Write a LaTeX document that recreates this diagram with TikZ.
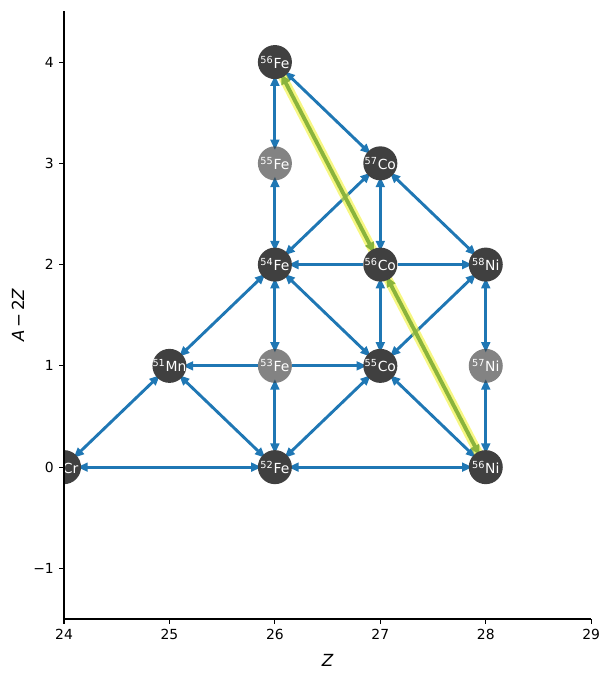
\documentclass[tikz,border=0pt]{standalone}
\usepackage{fontspec}
\setmainfont{DejaVu Sans}
\usetikzlibrary{arrows.meta}
\pgfdeclarelayer{background}
\pgfdeclarelayer{highlight}
\pgfsetlayers{background,highlight,main}
\definecolor{mplblue}{HTML}{1F77B4}
\definecolor{ndark}{HTML}{404040}
\definecolor{hlgreen}{HTML}{8AB43C}
\definecolor{hlyellow}{HTML}{F2F230}
\newcommand{\nucname}[2]{\makebox[0pt]{\textsuperscript{#1}#2}}
\begin{document}
\begin{tikzpicture}[x=75.9pt,y=72.9pt,
  nuc/.style={circle,fill=ndark,text=white,minimum size=24.5pt,inner sep=0pt,font=\fontsize{10}{12}\selectfont},
  nucl/.style={nuc,fill opacity=0.65,text opacity=1},
  tip/.tip={Triangle[length=7.5pt,width=6.2pt]},
  edge/.style={draw=mplblue,line width=2.1pt},
  both/.style={edge,tip-tip,shorten >=-2.9pt,shorten <=-2.9pt},
  fwd/.style={edge,-tip,shorten >=-2.9pt},
  hlglow/.style={draw=hlyellow,opacity=0.6,line width=6.5pt,line cap=round,shorten >=-1pt,shorten <=-1pt},
  hlline/.style={draw=hlgreen,line width=2.8pt,{Triangle[length=7.5pt,width=6.5pt]}-{Triangle[length=7.5pt,width=6.5pt]},shorten >=-2.9pt,shorten <=-2.9pt},
  axisline/.style={line width=0.8pt,black},
  ticklab/.style={inner sep=0pt,font=\fontsize{10}{12}\selectfont},
  axlab/.style={inner sep=0pt,font=\fontsize{12}{14}\selectfont}]
\useasboundingbox (23.393,-2.102) rectangle (29.185,4.613);

% nuclei
\node[nuc]  (Fe56) at (26,4) {\nucname{56}{Fe}};
\node[nucl] (Fe55) at (26,3) {\nucname{55}{Fe}};
\node[nuc]  (Co57) at (27,3) {\nucname{57}{Co}};
\node[nuc]  (Fe54) at (26,2) {\nucname{54}{Fe}};
\node[nuc]  (Co56) at (27,2) {\nucname{56}{Co}};
\node[nuc]  (Ni58) at (28,2) {\nucname{58}{Ni}};
\node[nuc]  (Mn51) at (25,1) {\nucname{51}{Mn}};
\node[nucl] (Fe53) at (26,1) {\nucname{53}{Fe}};
\node[nuc]  (Co55) at (27,1) {\nucname{55}{Co}};
\node[nucl] (Ni57) at (28,1) {\nucname{57}{Ni}};
\node[nuc]  (Fe52) at (26,0) {\nucname{52}{Fe}};
\node[nuc]  (Ni56) at (28,0) {\nucname{56}{Ni}};
\begin{scope}
  \clip (24,-1.5) rectangle (29,4.5);
  \node[nuc] (Cr48) at (24,0) {\nucname{48}{Cr}};
\end{scope}

% connectors
\begin{pgfonlayer}{background}
\draw[both] (Fe56) -- (Fe55);
\draw[both] (Fe56) -- (Co57);
\draw[both] (Fe55) -- (Fe54);
\draw[both] (Co57) -- (Fe54);
\draw[both] (Co57) -- (Co56);
\draw[both] (Co57) -- (Ni58);
\draw[both] (Fe54) -- (Mn51);
\draw[both] (Fe54) -- (Fe53);
\draw[both] (Fe54) -- (Co55);
\draw[both] (Co56) -- (Co55);
\draw[both] (Ni58) -- (Co55);
\draw[both] (Ni58) -- (Ni57);
\draw[both] (Mn51) -- (Cr48);
\draw[both] (Mn51) -- (Fe52);
\draw[both] (Fe53) -- (Fe52);
\draw[both] (Co55) -- (Fe52);
\draw[both] (Co55) -- (Ni56);
\draw[both] (Ni57) -- (Ni56);
\draw[both] (Cr48) -- (Fe52);
\draw[both] (Fe52) -- (Ni56);
\draw[fwd] (Co56) -- (Fe54);
\draw[fwd] (Co56) -- (Ni58);
\draw[fwd] (Fe53) -- (Mn51);
\draw[fwd] (Fe53) -- (Co55);
\end{pgfonlayer}
\begin{pgfonlayer}{highlight}
\draw[hlglow] (Fe56) -- (Co56);
\draw[hlglow] (Co56) -- (Ni56);
\draw[hlline] (Fe56) -- (Co56);
\draw[hlline] (Co56) -- (Ni56);
\end{pgfonlayer}

% axes
\draw[axisline] (24,4.5) -- (24,-1.5) -- (29,-1.5);
\foreach \x in {24,...,29} {
  \draw[axisline] (\x,-1.5) -- ++(0,-3.5pt) node[ticklab,anchor=north,yshift=-3.5pt] (xt\x) {\x};
}
\foreach \y/\l in {-1/−1,0/0,1/1,2/2,3/3,4/4} {
  \draw[axisline] (24,\y) -- ++(-3.5pt,0) node[ticklab,anchor=east,xshift=-3.5pt] (yt\l) {\l};
}
\node[axlab] (xlabel) at (26.5,-1.905) {\textit{Z}};
\node[axlab,rotate=90] (ylabel) at (23.564,1.5) {\textit{A}\,−\,2\textit{Z}};
\end{tikzpicture}
\end{document}
